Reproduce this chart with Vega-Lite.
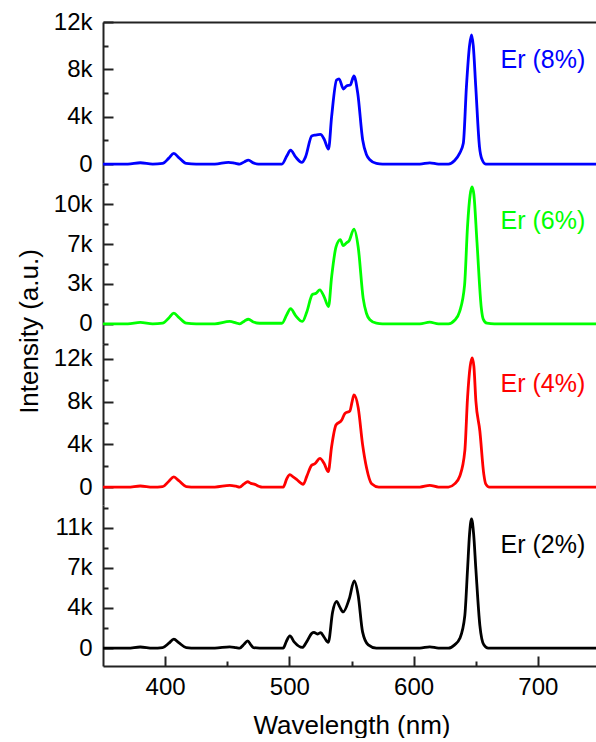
{
"$schema": "https://vega.github.io/schema/vega-lite/v6.json",
"padding": {"left": 16, "top": 10, "right": 0, "bottom": 0},
"background": "white",
"bounds": "flush",
"spacing": 0,
"config": {
  "view": {"stroke": null},
  "font": "Liberation Sans",
  "axis": {"labelFont": "Liberation Sans", "titleFont": "Liberation Sans", "labelFontSize": 24, "titleFontSize": 26, "titleFontWeight": "normal", "labelColor": "#000", "titleColor": "#000", "domainColor": "#222", "tickColor": "#222", "domainWidth": 2, "tickWidth": 2, "grid": false, "labelOverlap": false, "labelFlush": false}
},
"datasets": {
"p8": [{"wl":350,"v":0},{"wl":370,"v":0},{"wl":380,"v":110},{"wl":390,"v":0},{"wl":398,"v":50},{"wl":403,"v":500},{"wl":407,"v":900},{"wl":411,"v":550},{"wl":417,"v":50},{"wl":425,"v":0},{"wl":440,"v":0},{"wl":451,"v":150},{"wl":456,"v":80},{"wl":460,"v":0},{"wl":464,"v":200},{"wl":467,"v":340},{"wl":471,"v":100},{"wl":475,"v":0},{"wl":494,"v":0},{"wl":498,"v":700},{"wl":501,"v":1180},{"wl":505,"v":600},{"wl":510,"v":140},{"wl":513,"v":600},{"wl":518,"v":2370},{"wl":521,"v":2450},{"wl":525,"v":2500},{"wl":528,"v":2100},{"wl":531.5,"v":1270},{"wl":534,"v":4000},{"wl":538,"v":7100},{"wl":540,"v":7200},{"wl":543.5,"v":6340},{"wl":546,"v":6600},{"wl":549,"v":6680},{"wl":552,"v":7440},{"wl":555,"v":6000},{"wl":559,"v":2030},{"wl":562,"v":800},{"wl":565,"v":340},{"wl":570,"v":50},{"wl":575,"v":0},{"wl":605,"v":0},{"wl":613,"v":100},{"wl":620,"v":0},{"wl":628,"v":0},{"wl":633,"v":300},{"wl":637,"v":900},{"wl":640,"v":1750},{"wl":642.5,"v":6540},{"wl":645,"v":10000},{"wl":646.6,"v":10900},{"wl":648,"v":10000},{"wl":650,"v":6540},{"wl":653,"v":1460},{"wl":655,"v":400},{"wl":658,"v":0},{"wl":750,"v":0}],
"p6": [{"wl":350,"v":0},{"wl":370,"v":0},{"wl":380,"v":120},{"wl":390,"v":0},{"wl":398,"v":50},{"wl":403,"v":500},{"wl":407,"v":910},{"wl":411,"v":550},{"wl":417,"v":50},{"wl":425,"v":0},{"wl":440,"v":0},{"wl":452,"v":200},{"wl":457,"v":80},{"wl":460,"v":0},{"wl":464,"v":250},{"wl":467,"v":390},{"wl":471,"v":150},{"wl":476,"v":50},{"wl":494,"v":50},{"wl":498,"v":800},{"wl":501,"v":1290},{"wl":505,"v":700},{"wl":510.5,"v":200},{"wl":514,"v":1000},{"wl":518.5,"v":2500},{"wl":521.5,"v":2600},{"wl":524.5,"v":2900},{"wl":528,"v":2300},{"wl":531.5,"v":1460},{"wl":534,"v":4000},{"wl":537.5,"v":6530},{"wl":541,"v":7170},{"wl":543.3,"v":6670},{"wl":546,"v":6900},{"wl":548,"v":7060},{"wl":552,"v":8070},{"wl":555.4,"v":6530},{"wl":559.4,"v":2170},{"wl":562,"v":900},{"wl":564.8,"v":340},{"wl":570,"v":50},{"wl":575,"v":0},{"wl":605,"v":0},{"wl":613,"v":140},{"wl":620,"v":0},{"wl":628,"v":0},{"wl":633,"v":300},{"wl":637,"v":1040},{"wl":641,"v":3290},{"wl":643.4,"v":8350},{"wl":645.5,"v":11000},{"wl":647,"v":11670},{"wl":648.5,"v":11000},{"wl":651,"v":6950},{"wl":654.5,"v":1320},{"wl":656,"v":400},{"wl":659,"v":50},{"wl":665,"v":0},{"wl":750,"v":0}],
"p4": [{"wl":350,"v":0},{"wl":370,"v":0},{"wl":380,"v":100},{"wl":390,"v":0},{"wl":398,"v":50},{"wl":403,"v":550},{"wl":407,"v":950},{"wl":411,"v":600},{"wl":417,"v":50},{"wl":425,"v":0},{"wl":440,"v":0},{"wl":452,"v":160},{"wl":457,"v":80},{"wl":460,"v":0},{"wl":463.5,"v":300},{"wl":466.4,"v":500},{"wl":469,"v":350},{"wl":472.3,"v":250},{"wl":476,"v":50},{"wl":478,"v":0},{"wl":495,"v":0},{"wl":498,"v":800},{"wl":500.4,"v":1160},{"wl":503,"v":950},{"wl":505.8,"v":720},{"wl":509,"v":400},{"wl":511.2,"v":250},{"wl":514,"v":1000},{"wl":518,"v":2060},{"wl":520.6,"v":2190},{"wl":524.6,"v":2690},{"wl":528,"v":2200},{"wl":531.3,"v":1440},{"wl":534,"v":3800},{"wl":537.5,"v":5810},{"wl":542,"v":6250},{"wl":544.7,"v":6900},{"wl":548.7,"v":7130},{"wl":550.5,"v":8000},{"wl":552,"v":8630},{"wl":555.4,"v":7440},{"wl":558.9,"v":4000},{"wl":562.1,"v":1810},{"wl":566.2,"v":310},{"wl":572,"v":0},{"wl":605,"v":0},{"wl":613,"v":160},{"wl":620,"v":0},{"wl":628,"v":0},{"wl":633,"v":300},{"wl":637.2,"v":1030},{"wl":641.2,"v":3380},{"wl":643.4,"v":8380},{"wl":645.5,"v":11300},{"wl":647.1,"v":12100},{"wl":648.5,"v":11300},{"wl":650.1,"v":8060},{"wl":653.3,"v":5250},{"wl":656.5,"v":1190},{"wl":658,"v":300},{"wl":661,"v":0},{"wl":750,"v":0}],
"p2": [{"wl":350,"v":0},{"wl":370,"v":0},{"wl":380,"v":100},{"wl":390,"v":0},{"wl":398,"v":50},{"wl":403,"v":450},{"wl":407,"v":830},{"wl":411,"v":500},{"wl":417,"v":50},{"wl":425,"v":0},{"wl":440,"v":0},{"wl":452,"v":120},{"wl":457,"v":50},{"wl":460,"v":0},{"wl":463.5,"v":350},{"wl":466.4,"v":670},{"wl":469,"v":300},{"wl":471,"v":50},{"wl":476,"v":0},{"wl":495,"v":0},{"wl":497.5,"v":600},{"wl":500.4,"v":1120},{"wl":504,"v":550},{"wl":510.4,"v":60},{"wl":514,"v":600},{"wl":518,"v":1360},{"wl":519.8,"v":1450},{"wl":522.5,"v":1300},{"wl":525.2,"v":1420},{"wl":528,"v":1000},{"wl":531.3,"v":520},{"wl":534.8,"v":3330},{"wl":538,"v":4300},{"wl":540.5,"v":3800},{"wl":543.3,"v":3330},{"wl":548.2,"v":4550},{"wl":552.2,"v":6200},{"wl":555.4,"v":4850},{"wl":558.9,"v":1500},{"wl":563.5,"v":300},{"wl":570,"v":0},{"wl":605,"v":0},{"wl":613,"v":120},{"wl":620,"v":0},{"wl":628,"v":0},{"wl":633,"v":300},{"wl":637.2,"v":900},{"wl":641.2,"v":3000},{"wl":643.4,"v":7270},{"wl":645,"v":10500},{"wl":646.6,"v":11920},{"wl":648.3,"v":10500},{"wl":650.1,"v":7270},{"wl":653.3,"v":2100},{"wl":656.5,"v":300},{"wl":660,"v":0},{"wl":750,"v":0}]
},
"vconcat": [
{
  "width": 497, "height": 161,
  "layer": [
    {"data": {"name": "p8"},
     "mark": {"type": "line", "color": "#0000FF", "strokeWidth": 2.8, "interpolate": "monotone"},
     "encoding": {
       "x": {"field": "wl", "type": "quantitative", "scale": {"domain": [350, 750], "nice": false}, "axis": {"orient": "top", "labels": false, "ticks": false, "title": null}},
       "y": {"field": "v", "type": "quantitative", "scale": {"domain": [-1600, 12000], "nice": false, "zero": false},
             "axis": {"values": [0, 2000, 4000, 6000, 8000, 10000, 12000], "labelExpr": "datum.value % 4000 == 0 ? (datum.value == 0 ? '0' : round(datum.value/1000) + 'k') : ''", "tickSize": {"condition": {"test": "datum.value % 4000 == 0", "value": -10}, "value": -5}, "labelPadding": 21, "title": null}}
     }},
    {"data": {"values": [{"wl": 704, "v": 8760, "t": "Er (8%)"}]},
     "mark": {"type": "text", "color": "#0000FF", "fontSize": 25, "font": "Liberation Sans", "align": "center", "baseline": "middle"},
     "encoding": {"x": {"field": "wl", "type": "quantitative", "axis": {"orient": "top", "labels": false, "ticks": false, "title": null}}, "y": {"field": "v", "type": "quantitative", "axis": {"values": [0, 2000, 4000, 6000, 8000, 10000, 12000], "labelExpr": "datum.value % 4000 == 0 ? (datum.value == 0 ? '0' : round(datum.value/1000) + 'k') : ''", "tickSize": {"condition": {"test": "datum.value % 4000 == 0", "value": -10}, "value": -5}, "labelPadding": 21, "title": null}}, "text": {"field": "t"}}}
  ]
},
{
  "width": 497, "height": 161,
  "layer": [
    {"data": {"name": "p6"},
     "mark": {"type": "line", "color": "#00FF00", "strokeWidth": 2.8, "interpolate": "monotone"},
     "encoding": {
       "x": {"field": "wl", "type": "quantitative", "scale": {"domain": [350, 750], "nice": false}, "axis": null},
       "y": {"field": "v", "type": "quantitative", "scale": {"domain": [-1720, 12000], "nice": false, "zero": false},
             "axis": {"values": [-1700, 0, 1700, 3400, 5100, 6800, 8500, 10200, 11900], "labelExpr": "datum.value % 3400 == 0 ? (datum.value == 0 ? '0' : round(datum.value/1000) + 'k') : ''", "tickSize": {"condition": {"test": "datum.value % 3400 == 0", "value": -10}, "value": -5}, "labelPadding": 21, "title": "Intensity (a.u.)", "titleX": -74, "titleY": 148, "titleBaseline": "middle"}}
     }},
    {"data": {"values": [{"wl": 704, "v": 8800, "t": "Er (6%)"}]},
     "mark": {"type": "text", "color": "#00FF00", "fontSize": 25, "font": "Liberation Sans", "align": "center", "baseline": "middle"},
     "encoding": {"x": {"field": "wl", "type": "quantitative", "axis": null}, "y": {"field": "v", "type": "quantitative", "axis": {"values": [-1700, 0, 1700, 3400, 5100, 6800, 8500, 10200, 11900], "labelExpr": "datum.value % 3400 == 0 ? (datum.value == 0 ? '0' : round(datum.value/1000) + 'k') : ''", "tickSize": {"condition": {"test": "datum.value % 3400 == 0", "value": -10}, "value": -5}, "labelPadding": 21, "title": "Intensity (a.u.)", "titleX": -74, "titleY": 148, "titleBaseline": "middle"}}, "text": {"field": "t"}}}
  ]
},
{
  "width": 497, "height": 161,
  "layer": [
    {"data": {"name": "p4"},
     "mark": {"type": "line", "color": "#FF0000", "strokeWidth": 2.8, "interpolate": "monotone"},
     "encoding": {
       "x": {"field": "wl", "type": "quantitative", "scale": {"domain": [350, 750], "nice": false}, "axis": null},
       "y": {"field": "v", "type": "quantitative", "scale": {"domain": [-1680, 13400], "nice": false, "zero": false},
             "axis": {"values": [0, 2000, 4000, 6000, 8000, 10000, 12000], "labelExpr": "datum.value % 4000 == 0 ? (datum.value == 0 ? '0' : round(datum.value/1000) + 'k') : ''", "tickSize": {"condition": {"test": "datum.value % 4000 == 0", "value": -10}, "value": -5}, "labelPadding": 21, "title": null}}
     }},
    {"data": {"values": [{"wl": 704, "v": 9700, "t": "Er (4%)"}]},
     "mark": {"type": "text", "color": "#FF0000", "fontSize": 25, "font": "Liberation Sans", "align": "center", "baseline": "middle"},
     "encoding": {"x": {"field": "wl", "type": "quantitative", "axis": null}, "y": {"field": "v", "type": "quantitative", "axis": {"values": [0, 2000, 4000, 6000, 8000, 10000, 12000], "labelExpr": "datum.value % 4000 == 0 ? (datum.value == 0 ? '0' : round(datum.value/1000) + 'k') : ''", "tickSize": {"condition": {"test": "datum.value % 4000 == 0", "value": -10}, "value": -5}, "labelPadding": 21, "title": null}}, "text": {"field": "t"}}}
  ]
},
{
  "width": 497, "height": 161,
  "layer": [
    {"data": {"name": "p2"},
     "mark": {"type": "line", "color": "#000000", "strokeWidth": 2.8, "interpolate": "monotone"},
     "encoding": {
       "x": {"field": "wl", "type": "quantitative", "scale": {"domain": [350, 750], "nice": false},
             "axis": {"orient": "bottom", "values": [400, 450, 500, 550, 600, 650, 700], "labelExpr": "datum.value % 100 == 0 ? datum.label : ''", "tickSize": {"condition": {"test": "datum.value % 100 == 0", "value": -10}, "value": -5}, "labelPadding": 19, "title": "Wavelength (nm)", "titleY": 46}},
       "y": {"field": "v", "type": "quantitative", "scale": {"domain": [-1650, 13190], "nice": false, "zero": false},
             "axis": {"values": [0, 1850, 3700, 5550, 7400, 9250, 11100, 12950], "labelExpr": "datum.value % 3700 == 0 ? (datum.value == 0 ? '0' : round(datum.value/1000) + 'k') : ''", "tickSize": {"condition": {"test": "datum.value % 3700 == 0", "value": -10}, "value": -5}, "labelPadding": 21, "title": null}}
     }},
    {"data": {"values": [{"wl": 704, "v": 9460, "t": "Er (2%)"}]},
     "mark": {"type": "text", "color": "#000000", "fontSize": 25, "font": "Liberation Sans", "align": "center", "baseline": "middle"},
     "encoding": {"x": {"field": "wl", "type": "quantitative", "axis": {"orient": "bottom", "values": [400, 450, 500, 550, 600, 650, 700], "labelExpr": "datum.value % 100 == 0 ? datum.label : ''", "tickSize": {"condition": {"test": "datum.value % 100 == 0", "value": -10}, "value": -5}, "labelPadding": 19, "title": "Wavelength (nm)", "titleY": 46}}, "y": {"field": "v", "type": "quantitative", "axis": {"values": [0, 1850, 3700, 5550, 7400, 9250, 11100, 12950], "labelExpr": "datum.value % 3700 == 0 ? (datum.value == 0 ? '0' : round(datum.value/1000) + 'k') : ''", "tickSize": {"condition": {"test": "datum.value % 3700 == 0", "value": -10}, "value": -5}, "labelPadding": 21, "title": null}}, "text": {"field": "t"}}}
  ]
}
]
}
